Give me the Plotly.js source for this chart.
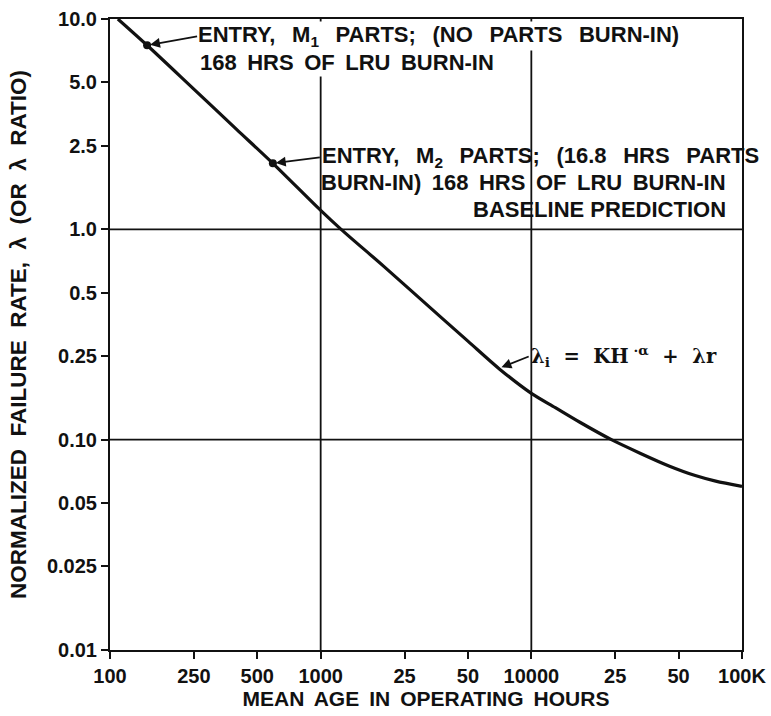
<!DOCTYPE html>
<html>
<head>
<meta charset="utf-8">
<script src="https://cdn.plot.ly/plotly-3.0.1.min.js"></script>
<style>html,body{margin:0;padding:0;background:#fff;}#chart{width:771px;height:716px;}</style>
</head>
<body>
<div id="chart"></div>
<script>
// Curve: normalized failure rate vs mean age (hours)
var curveHours = [109, 150, 250, 400, 593, 1000, 1250, 2000, 3000, 5000, 7050, 10000, 13000, 17000, 24000, 33000, 45000, 60000, 75000, 100000];
var curveRate  = [10.0, 7.5, 4.64, 2.98, 2.06, 1.23, 1.0, 0.665, 0.463, 0.294, 0.217, 0.166, 0.142, 0.121, 0.1, 0.086, 0.075, 0.0675, 0.0635, 0.060];

// Entry points
var entryHours = [150, 593];
var entryRate  = [7.5, 2.06];

// Tick labels
var xTickVals = [100, 250, 500, 1000, 2500, 5000, 10000, 25000, 50000, 100000];
var xTickText = ['100', '250', '500', '1000', '25', '50', '10000', '25', '50', '100K'];
var yTickVals = [10, 5, 2.5, 1, 0.5, 0.25, 0.1, 0.05, 0.025, 0.01];
var yTickText = ['10.0', '5.0', '2.5', '1.0', '0.5', '0.25', '0.10', '0.05', '0.025', '0.01'];

// Grid positions
var xGrid = [1000, 10000];
var yGrid = [1, 0.1];

// Equation arrow target
var eqHours = 7000, eqRate = 0.218;

var ink = '#111';
var fontFam = 'Liberation Sans, Arial, Helvetica, sans-serif';
var NB = '&nbsp;', TH = '&#8201;', WS = '&nbsp;&#8201;';

var traces = [
  {x: curveHours, y: curveRate, mode: 'lines', line: {color: ink, width: 3.2, shape: 'spline', smoothing: 0.8}, hoverinfo: 'skip', showlegend: false},
  {x: entryHours, y: entryRate, mode: 'markers', marker: {color: ink, size: 8}, hoverinfo: 'skip', showlegend: false}
];

var shapes = [];
xGrid.forEach(function(v){
  shapes.push({type: 'line', xref: 'x', yref: 'paper', x0: v, x1: v, y0: 0, y1: 1, line: {color: ink, width: 1.8}, layer: 'below'});
});
yGrid.forEach(function(v){
  shapes.push({type: 'line', xref: 'paper', yref: 'y', x0: 0, x1: 1, y0: v, y1: v, line: {color: ink, width: 1.8}, layer: 'below'});
});

var annFont = {family: fontFam, size: 22, color: ink, weight: 'bold'};
function px(xp){ return (xp - 110) / 632; }
function py(yp){ return 1 - (yp - 19) / 631; }
var arrowStyle = {showarrow: true, arrowhead: 2, arrowsize: 1.1, arrowwidth: 1.8, arrowcolor: ink, standoff: 3, startstandoff: 0};

var annotations = [
  Object.assign({x: Math.log10(entryHours[0]), y: Math.log10(entryRate[0]), xref: 'x', yref: 'y', ax: 50, ay: -9,
   xanchor: 'left', yanchor: 'middle',
   text: 'ENTRY,' + WS + ' M<sub>1</sub>' + WS + ' PARTS;' + WS + ' (NO' + WS + ' PARTS' + WS + ' BURN-IN)',
   font: annFont, bgcolor: '#fff', borderpad: 0}, arrowStyle),
  {xref: 'paper', yref: 'paper', x: px(198), y: py(62), xanchor: 'left', yanchor: 'middle', showarrow: false,
   text: '168' + TH + ' HRS' + TH + ' OF' + TH + ' LRU' + TH + ' BURN-IN', font: annFont, bgcolor: '#fff', borderpad: 1},
  Object.assign({x: Math.log10(entryHours[1]), y: Math.log10(entryRate[1]), xref: 'x', yref: 'y', ax: 47, ay: -6,
   xanchor: 'left', yanchor: 'middle',
   text: 'ENTRY,' + WS + ' M<sub>2</sub>' + WS + ' PARTS;' + WS + ' (16.8' + WS + ' HRS' + WS + ' PARTS', font: annFont}, arrowStyle),
  {xref: 'paper', yref: 'paper', x: px(319), y: py(183), xanchor: 'left', yanchor: 'middle', showarrow: false,
   text: 'BURN-IN)' + TH + ' 168' + TH + ' HRS' + TH + ' OF' + TH + ' LRU' + TH + ' BURN-IN', font: annFont},
  {xref: 'paper', yref: 'paper', x: px(728), y: py(209), xanchor: 'right', yanchor: 'middle', showarrow: false,
   text: 'BASELINE PREDICTION', font: annFont},
  Object.assign({x: Math.log10(eqHours), y: Math.log10(eqRate), xref: 'x', yref: 'y', ax: 30, ay: -12,
   xanchor: 'left', yanchor: 'middle',
   text: 'λ<sub>i</sub>&nbsp; = &nbsp;KH<sup>&nbsp;·α</sup>&nbsp; + &nbsp;λr',
   font: {family: 'DejaVu Serif, Liberation Serif, serif', size: 19.5, color: ink, weight: 'bold'}}, arrowStyle)
];

var layout = {
  width: 771, height: 716,
  margin: {l: 110, r: 29, t: 19, b: 66},
  paper_bgcolor: '#fff', plot_bgcolor: '#fff',
  font: {family: fontFam, size: 20, color: ink, weight: 'bold'},
  showlegend: false,
  xaxis: {
    type: 'log', range: [2, 5],
    tickvals: xTickVals, ticktext: xTickText,
    ticks: 'outside', ticklen: 7, tickwidth: 2, tickcolor: ink,
    showgrid: false, zeroline: false,
    showline: true, linecolor: ink, linewidth: 2, mirror: true,
    tickfont: {family: fontFam, size: 20, color: ink, weight: 'bold'},
    title: {text: 'MEAN' + TH + ' AGE' + TH + ' IN' + TH + ' OPERATING' + TH + ' HOURS', font: {family: fontFam, size: 21, color: ink, weight: 'bold'}, standoff: 4}
  },
  yaxis: {
    type: 'log', range: [-2, 1],
    tickvals: yTickVals, ticktext: yTickText,
    ticks: 'outside', ticklen: 7, tickwidth: 2, tickcolor: ink,
    showgrid: false, zeroline: false,
    showline: true, linecolor: ink, linewidth: 2, mirror: true,
    tickfont: {family: fontFam, size: 20, color: ink, weight: 'bold'},
    title: {text: 'NORMALIZED' + NB + ' FAILURE' + NB + ' RATE,' + NB + ' λ' + NB + ' (OR' + NB + ' λ' + NB + ' RATIO)', font: {family: fontFam, size: 22.5, color: ink, weight: 'bold'}, standoff: 14}
  },
  shapes: shapes,
  annotations: annotations
};

Plotly.newPlot('chart', traces, layout, {displayModeBar: false, staticPlot: true});
</script>
</body>
</html>
